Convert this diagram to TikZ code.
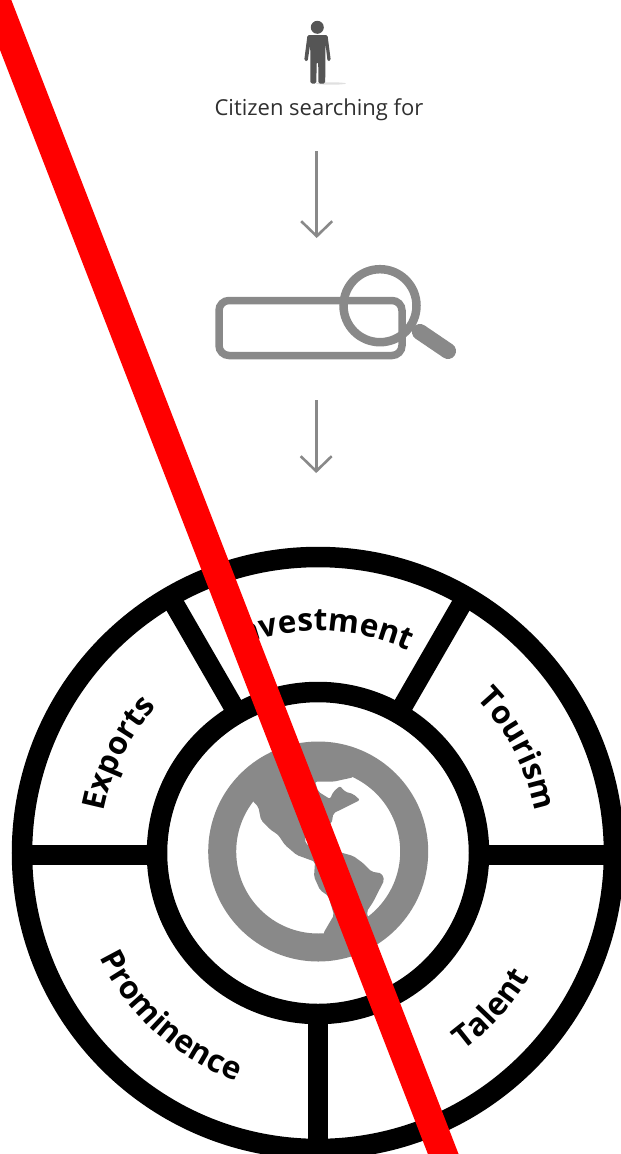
\documentclass[tikz,border=0pt]{standalone}
\usepackage{fontspec}
\usetikzlibrary{arrows.meta, calc, decorations.text}
\newfontfamily\citizenfont{Open Sans}
\newfontfamily\wheelfont{Open Sans}[UprightFont=*-Bold]
\definecolor{fillIcon}{HTML}{898989}
\definecolor{fillPerson}{HTML}{555555}
\definecolor{textCitizen}{HTML}{303030}
\definecolor{slashRed}{HTML}{FF0000}

\begin{document}
\begin{tikzpicture}[
    x=1pt, y=-1pt,
    myarrow/.style={draw=fillIcon, line width=2.6pt, -{Straight Barb[length=15pt,width=31pt]}},
    ringstyle/.style={draw=black, line width=20.5pt},
    spokestyle/.style={draw=black, line width=20pt},
    iconstyle/.style={draw=fillIcon, line width=7.5pt},
    wheellabel/.style={decorate, decoration={text along path, text align=center,
        text={|\wheelfont\fontsize{31.5}{32}\selectfont|#1}}}
]
    \useasboundingbox (0,0) rectangle (621,1154);
    \clip (0,0) rectangle (621,1154);

    % ==========================================
    % 1. CITIZEN (Top)
    % ==========================================

    \fill[black!12] (331,83.5) ellipse [x radius=15, y radius=1.2];
    \fill[fillPerson] (317.3,27.3) circle [radius=6.5];
    \fill[fillPerson, rounded corners=1.5pt] (307.5,35) -- (327.5,35) -- (330.8,60.5) -- (327.6,61.5)
        -- (325.5,44) -- (325.2,83.5) -- (318.4,83.5) -- (318.2,62) -- (316.6,62) -- (316.4,83.5)
        -- (310.5,83.5) -- (310.2,44) -- (307.6,61.5) -- (304.2,60.5) -- cycle;

    \node[inner sep=0pt, text=textCitizen, font=\citizenfont\fontsize{22}{22}\selectfont] (citizen) at (319,110) {Citizen searching for};

    % ==========================================
    % 2. SEARCH BOX
    % ==========================================

    \coordinate (arrowOneTop) at (316.7,151);
    \coordinate (arrowOneEnd) at (316.7,238);
    \coordinate (arrowTwoTop) at (316.2,400);
    \coordinate (arrowTwoEnd) at (316.2,473);

    \draw[myarrow] (arrowOneTop) -- (arrowOneEnd);

    \node[draw=fillIcon, line width=7.5pt, rounded corners=10pt, inner sep=0pt,
        minimum width=183pt, minimum height=55pt] (searchbox) at (310.5,328) {};
    \node[circle, draw=fillIcon, line width=8.5pt, inner sep=0pt, minimum size=73pt] (lens) at (380,305.7) {};
    \coordinate (handleStart) at (420,332);
    \coordinate (handleEnd) at (448,351);

    \draw[iconstyle, line width=5pt] (lens) ++(34,22) -- (handleStart);
    \draw[iconstyle, line width=16pt, line cap=round] (handleStart) -- (handleEnd);

    \draw[myarrow] (arrowTwoTop) -- (arrowTwoEnd);

    % ==========================================
    % 3. WHEEL (Bottom)
    % ==========================================

    \coordinate (hub) at (318,853);

    \draw[ringstyle] (hub) circle [radius=296];
    \draw[ringstyle] (hub) circle [radius=161];

    % Spokes between the two rings
    \draw[spokestyle] (160,855) -- (28,855);
    \draw[spokestyle] (476,855) -- (608,855);
    \draw[spokestyle] (318,1012) -- (318,1150);
    \draw[spokestyle] ($(hub)+(240:165)$) -- ($(hub)+(240:290)$);
    \draw[spokestyle] ($(hub)+(300:165)$) -- ($(hub)+(300:290)$);

    % Labels along arcs
    \path[wheellabel=Investment] ($(hub)+(235.7:222)$) arc [start angle=235.7, end angle=305.7, radius=222];
    \path[wheellabel=Tourism] ($(hub)+(297.5:221)$) arc [start angle=297.5, end angle=367.5, radius=221];
    \path[wheellabel=Exports] ($(hub)+(171.5:218)$) arc [start angle=171.5, end angle=241.5, radius=218];
    \path[wheellabel=Prominence] ($(hub)+(175:242)$) arc [start angle=175, end angle=89, radius=242];
    \path[wheellabel=Talent] ($(hub)+(77:245)$) arc [start angle=77, end angle=7, radius=245];

    % ==========================================
    % 4. GLOBE (Centre of the wheel)
    % ==========================================

    \coordinate (globe) at (318.2,851.5);
    \draw[fillIcon, line width=28pt] (globe) circle [radius=96];

    \begin{scope}
        \clip (globe) circle [radius=97];
        \fill[fillIcon, rounded corners=2pt] (245,790) -- (253.3,801.7) -- (258.3,806.7) -- (261,820)
            -- (270,829.3) -- (278.3,835) -- (285,845) -- (296.7,855) -- (315,861.7) -- (314,876.7)
            -- (320,890) -- (328.3,896) -- (334,915) -- (323.3,933.3) -- (325,945) -- (370,925)
            -- (366.7,911.7) -- (373.3,901.7) -- (384.3,880) -- (381.7,873.3) -- (371.7,871.7)
            -- (363.3,863.3) -- (353.3,856) -- (341.7,852.7) -- (308,846) -- (304.5,840) -- (306,836)
            -- (331.7,823.3) -- (333.3,813.3) -- (346.7,806.7) -- (360,800) -- (353.3,794) -- (345,791.7)
            -- (340,786) -- (333.3,791.7) -- (330,799) -- (318.3,791.7) -- (315,781.7) -- (333.3,781.7)
            -- (353.3,777.3) -- (355,765) -- (300,750) -- cycle;
    \end{scope}

    % ==========================================
    % 5. RED SLASH (Over everything)
    % ==========================================

    \coordinate (slashTop) at (-23.4,-50);
    \coordinate (slashEnd) at (462.6,1204);
    \draw[slashRed, line width=28.6pt] (slashTop) -- (slashEnd);

\end{tikzpicture}
\end{document}
